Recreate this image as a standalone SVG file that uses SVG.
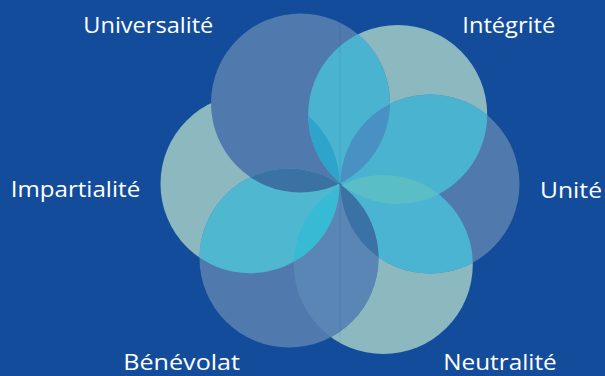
<svg xmlns="http://www.w3.org/2000/svg" width="605" height="376" viewBox="0 0 605 376">
  <style>
    .slate { fill: #5079ae; }
    .teal { fill: #8cb9bf; }
    .lbl { fill: #ffffff; font-family: "Open Sans", "Noto Sans", sans-serif; font-weight: 400; font-size: 22px; }
  </style>
  <defs>
    <clipPath id="k1"><circle cx="300.5" cy="103" r="89.5"/></clipPath>
    <clipPath id="k2"><circle cx="397.7" cy="114.5" r="89.5"/></clipPath>
    <clipPath id="k3"><circle cx="430" cy="184" r="89.5"/></clipPath>
    <clipPath id="k4"><circle cx="383.3" cy="264.5" r="89.5"/></clipPath>
    <clipPath id="k5"><circle cx="289" cy="258" r="89.5"/></clipPath>
    <clipPath id="k6"><circle cx="250" cy="183.7" r="89.5"/></clipPath>
  </defs>
  <rect width="605" height="376" fill="#144c9c"/>

  <g id="circles">
    <g id="impartialite"><circle class="teal" cx="250" cy="183.7" r="89.5"/></g>
    <g id="integrite"><circle class="teal" cx="397.7" cy="114.5" r="89.5"/></g>
    <g id="neutralite"><circle class="teal" cx="383.3" cy="264.5" r="89.5"/></g>
    <g id="universalite"><circle class="slate" cx="300.5" cy="103" r="89.5"/></g>
    <g id="unite"><circle class="slate" cx="430" cy="184" r="89.5"/></g>
    <g id="benevolat"><circle class="slate" cx="289" cy="258" r="89.5"/></g>
  </g>

  <g id="overlaps">
    <circle cx="397.7" cy="114.5" r="89.5" fill="#4ab3d0" clip-path="url(#k1)"/>
    <circle cx="430" cy="184" r="89.5" fill="#4ab3d0" clip-path="url(#k2)"/>
    <circle cx="383.3" cy="264.5" r="89.5" fill="#4ab4d2" clip-path="url(#k3)"/>
    <circle cx="289" cy="258" r="89.5" fill="#5a86b5" clip-path="url(#k4)"/>
    <circle cx="250" cy="183.7" r="89.5" fill="#4fb7d0" clip-path="url(#k5)"/>
    <circle cx="430" cy="184" r="89.5" fill="#4a91c3" clip-path="url(#k1)"/>
    <circle cx="383.3" cy="264.5" r="89.5" fill="#5bbec6" clip-path="url(#k2)"/>
    <circle cx="289" cy="258" r="89.5" fill="#3b72a6" clip-path="url(#k3)"/>
    <circle cx="250" cy="183.7" r="89.5" fill="#37bbd4" clip-path="url(#k4)"/>
    <circle cx="300.5" cy="103" r="89.5" fill="#3a72a4" clip-path="url(#k5)"/>
    <circle cx="397.7" cy="114.5" r="89.5" fill="#2fa4ca" clip-path="url(#k6)"/>
  </g>

  <g id="seam">
    <line x1="340" y1="23" x2="340" y2="343" stroke="#1a3f80" stroke-opacity="0.12" stroke-width="1"/>
  </g>

  <g id="labels">
    <text class="lbl" x="83.3" y="32.7" textLength="130" lengthAdjust="spacingAndGlyphs">Universalité</text>
    <text class="lbl" x="462.3" y="32.7" textLength="93" lengthAdjust="spacingAndGlyphs">Intégrité</text>
    <text class="lbl" x="10.7" y="197" textLength="129.5" lengthAdjust="spacingAndGlyphs">Impartialité</text>
    <text class="lbl" x="540" y="198" textLength="62" lengthAdjust="spacingAndGlyphs">Unité</text>
    <text class="lbl" x="123.3" y="370" textLength="116.7" lengthAdjust="spacingAndGlyphs">Bénévolat</text>
    <text class="lbl" x="443.3" y="370" textLength="113.4" lengthAdjust="spacingAndGlyphs">Neutralité</text>
  </g>
</svg>
